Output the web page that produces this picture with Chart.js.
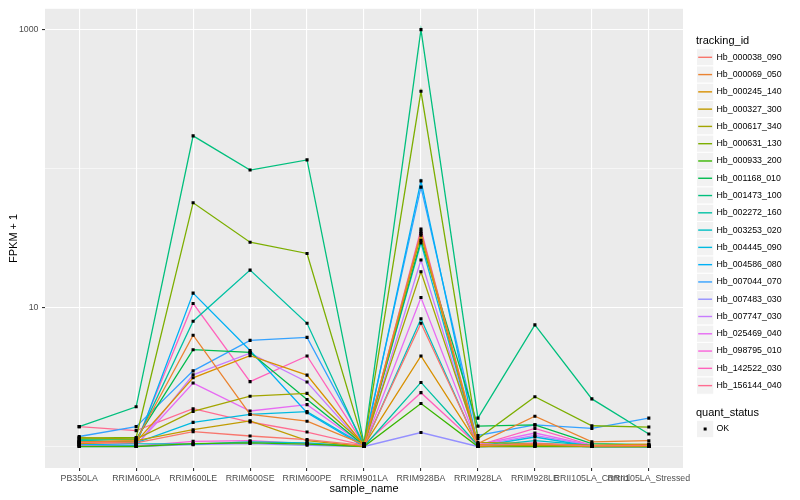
<!DOCTYPE html>
<html>
<head>
<meta charset="utf-8">
<script src="https://cdn.jsdelivr.net/npm/chart.js@4"></script>
<style>
  html, body { margin: 0; padding: 0; background: #ffffff; }
  #wrap { width: 800px; height: 500px; }
</style>
</head>
<body>
<div id="wrap"><canvas id="fpkmChart" width="800" height="500"></canvas></div>
<script>
"use strict";

// x categories (sample_name)
var categories = ['PB350LA', 'RRIM600LA', 'RRIM600LE', 'RRIM600SE', 'RRIM600PE', 'RRIM901LA',
    'RRIM928BA', 'RRIM928LA', 'RRIM928LE', 'RRII105LA_Control', 'RRII105LA_Stressed'];

// y axis: gridlines at these values, only some labelled
var yGridValues = [1, 10, 100, 1000];
var yTickLabels = ['10', '1000'];

var trackingIds = ['Hb_000038_090', 'Hb_000069_050', 'Hb_000245_140', 'Hb_000327_300', 'Hb_000617_340',
    'Hb_000631_130', 'Hb_000933_200', 'Hb_001168_010', 'Hb_001473_100', 'Hb_002272_160',
    'Hb_003253_020', 'Hb_004445_090', 'Hb_004586_080', 'Hb_007044_070', 'Hb_007483_030',
    'Hb_007747_030', 'Hb_025469_040', 'Hb_098795_010', 'Hb_142522_030', 'Hb_156144_040'];

var seriesColors = ['#F8766D', '#EA8331', '#D89000', '#C09B00', '#A3A500', '#7CAE00', '#39B600', '#00BB4E',
    '#00BF7D', '#00C1A3', '#00BFC4', '#00BAE0', '#00B0F6', '#35A2FF', '#9590FF', '#C77CFF',
    '#E76BF3', '#FA62DB', '#FF62BC', '#FF6C91'];

// FPKM + 1 per sample
var hb000038_090 = [1.07, 1.06, 1.28, 1.19, 1.12, 1.02, 7.7, 1.02, 1.05, 1.01, 1.02];
var hb000069_050 = [1.07, 1.10, 6.32, 1.70, 1.52, 1.03, 35.3, 1.05, 1.65, 1.08, 1.10];
var hb000245_140 = [1.05, 1.08, 3.12, 4.50, 3.26, 1.02, 4.48, 1.03, 1.03, 1.02, 1.04];
var hb000327_300 = [1.08, 1.10, 1.32, 1.53, 1.10, 1.00, 33.2, 1.00, 1.02, 1.00, 1.00];
var hb000617_340 = [1.16, 1.13, 1.79, 2.30, 2.41, 1.04, 18.1, 1.07, 1.05, 1.02, 1.02];
var hb000631_130 = [1.15, 1.16, 56.8, 29.5, 24.5, 1.03, 360, 1.14, 2.28, 1.41, 1.38];
var hb000933_200 = [1.00, 1.00, 1.05, 1.06, 1.04, 1.00, 2.04, 1.00, 1.00, 1.00, 1.00];
var hb001168_010 = [1.13, 1.13, 4.97, 4.76, 2.18, 1.02, 30.5, 1.40, 1.43, 1.05, 1.03];
var hb001473_100 = [1.39, 1.93, 172, 97.6, 115.5, 1.05, 1000, 1.60, 7.50, 2.20, 1.23];
var hb002272_160 = [1.10, 1.08, 7.97, 18.6, 7.70, 1.00, 2.89, 1.02, 1.02, 1.00, 1.00];
var hb003253_020 = [1.09, 1.05, 1.04, 1.08, 1.06, 1.00, 8.3, 1.00, 1.10, 1.02, 1.00];
var hb004445_090 = [1.11, 1.06, 1.49, 1.70, 1.78, 1.02, 29.2, 1.00, 1.17, 1.00, 1.00];
var hb004586_080 = [1.04, 1.02, 12.7, 4.90, 1.75, 1.00, 81.5, 1.00, 1.02, 1.00, 1.00];
var hb007044_070 = [1.18, 1.39, 3.50, 5.80, 6.10, 1.05, 73.5, 1.20, 1.43, 1.35, 1.60];
var hb007483_030 = [1.00, 1.00, 1.03, 1.05, 1.02, 1.00, 1.26, 1.00, 1.00, 1.00, 1.00];
var hb007747_030 = [1.02, 1.01, 3.28, 4.70, 2.91, 1.01, 22.0, 1.02, 1.20, 1.02, 1.01];
var hb025469_040 = [1.03, 1.02, 2.86, 1.80, 2.00, 1.02, 11.8, 1.03, 1.25, 1.02, 1.00];
var hb098795_010 = [1.01, 1.01, 1.09, 1.10, 1.05, 1.00, 36.7, 1.01, 1.06, 1.00, 1.00];
var hb142522_030 = [1.06, 1.06, 10.7, 2.93, 4.48, 1.03, 2.44, 1.02, 1.35, 1.02, 1.00];
var hb156144_040 = [1.39, 1.30, 1.87, 1.50, 1.27, 1.02, 34.2, 1.00, 1.02, 1.00, 1.00];

var seriesValues = [hb000038_090, hb000069_050, hb000245_140, hb000327_300, hb000617_340,
    hb000631_130, hb000933_200, hb001168_010, hb001473_100, hb002272_160,
    hb003253_020, hb004445_090, hb004586_080, hb007044_070, hb007483_030,
    hb007747_030, hb025469_040, hb098795_010, hb142522_030, hb156144_040];

var FONT = '"Liberation Sans", Arial, Helvetica, sans-serif';

function toPoints(values) {
    return values.map(function (v, i) { return { x: i, y: v }; });
}

var datasets = [];
// lines underneath
seriesValues.forEach(function (vals, i) {
    datasets.push({
        label: trackingIds[i],
        data: toPoints(vals),
        borderColor: seriesColors[i],
        backgroundColor: seriesColors[i],
        borderWidth: 1.3,
        pointRadius: 0,
        fill: false,
        tension: 0,
        order: 2
    });
});
// black square points on top (quant_status = OK)
seriesValues.forEach(function (vals, i) {
    datasets.push({
        label: 'OK',
        data: toPoints(vals),
        showLine: false,
        pointStyle: 'rect',
        pointRadius: 2.2,
        pointBorderWidth: 0,
        pointBackgroundColor: '#000000',
        pointBorderColor: '#000000',
        order: 1
    });
});

// grey panel behind the plot, like ggplot
var panelBg = {
    id: 'panelBg',
    beforeDraw: function (chart) {
        var a = chart.chartArea, c = chart.ctx;
        c.save();
        c.fillStyle = '#EBEBEB';
        c.fillRect(a.left, a.top, a.right - a.left, a.bottom - a.top);
        c.restore();
    }
};

// legend on the right: tracking_id and quant_status
var sideLegend = {
    id: 'sideLegend',
    afterDraw: function (chart) {
        var c = chart.ctx;
        var x0 = 696.5, step = 17.28, key = 17.28;
        c.save();
        c.textBaseline = 'middle';
        c.textAlign = 'left';
        c.fillStyle = '#000000';
        c.font = '11px ' + FONT;
        c.fillText('tracking_id', 696, 41);
        c.font = '8.8px ' + FONT;
        for (var i = 0; i < trackingIds.length; i++) {
            var cy = 57.3 + i * step;
            c.fillStyle = '#F2F2F2';
            c.fillRect(x0, cy - key / 2, key, key);
            c.strokeStyle = '#FFFFFF';
            c.lineWidth = 1;
            c.strokeRect(x0, cy - key / 2, key, key);
            c.strokeStyle = seriesColors[i];
            c.lineWidth = 1.4;
            c.beginPath();
            c.moveTo(x0 + 1.7, cy);
            c.lineTo(x0 + key - 1.7, cy);
            c.stroke();
            c.fillStyle = '#000000';
            c.fillText(trackingIds[i], 716.5, cy);
        }
        c.font = '11px ' + FONT;
        c.fillText('quant_status', 696, 412.7);
        var oy = 429;
        c.fillStyle = '#F2F2F2';
        c.fillRect(x0, oy - key / 2, key, key);
        c.strokeStyle = '#FFFFFF';
        c.lineWidth = 1;
        c.strokeRect(x0, oy - key / 2, key, key);
        c.fillStyle = '#000000';
        c.fillRect(x0 + key / 2 - 1.5, oy - 1.5, 3, 3);
        c.font = '8.8px ' + FONT;
        c.fillText('OK', 716.5, oy);
        c.restore();
    }
};

var ctx = document.getElementById('fpkmChart').getContext('2d');
new Chart(ctx, {
    type: 'line',
    data: { datasets: datasets },
    options: {
        responsive: false,
        animation: false,
        events: [],
        layout: { padding: { top: 5.5, right: 117, bottom: 0, left: 0 } },
        plugins: {
            legend: { display: false },
            tooltip: { enabled: false }
        },
        scales: {
            x: {
                type: 'linear',
                min: -0.6,
                max: categories.length - 1 + 0.6,
                afterBuildTicks: function (scale) {
                    scale.ticks = categories.map(function (c, i) { return { value: i }; });
                },
                afterFit: function (scale) { scale.height = 32; },
                border: { display: false },
                grid: {
                    color: '#FFFFFF',
                    lineWidth: 1.1,
                    tickColor: '#333333',
                    tickLength: 3
                },
                ticks: {
                    autoSkip: false,
                    maxRotation: 0,
                    minRotation: 0,
                    padding: 2,
                    color: '#4D4D4D',
                    font: { family: FONT, size: 8.8 },
                    callback: function (v) { return categories[v]; }
                },
                title: {
                    display: true,
                    text: 'sample_name',
                    color: '#000000',
                    font: { family: FONT, size: 11 },
                    padding: { top: 0, bottom: 4.4 }
                }
            },
            y: {
                type: 'logarithmic',
                min: Math.pow(10, -0.15),
                max: Math.pow(10, 3.15),
                afterBuildTicks: function (scale) {
                    scale.ticks = yGridValues.map(function (v) { return { value: v }; });
                },
                afterFit: function (scale) { scale.width = 45; },
                border: { display: false },
                grid: {
                    color: '#FFFFFF',
                    lineWidth: function (c) {
                        return yTickLabels.indexOf(String(c.tick.value)) >= 0 ? 1.1 : 0.55;
                    },
                    tickColor: function (c) {
                        return yTickLabels.indexOf(String(c.tick.value)) >= 0 ? '#333333' : 'rgba(0,0,0,0)';
                    },
                    tickLength: 3
                },
                ticks: {
                    padding: 3.5,
                    color: '#4D4D4D',
                    font: { family: FONT, size: 8.8 },
                    callback: function (v) {
                        return yTickLabels.indexOf(String(v)) >= 0 ? String(v) : '';
                    }
                },
                title: {
                    display: true,
                    text: 'FPKM + 1',
                    color: '#000000',
                    font: { family: FONT, size: 11 },
                    padding: { top: 7.4, bottom: 0 }
                }
            }
        }
    },
    plugins: [panelBg, sideLegend]
});
</script>
</body>
</html>
